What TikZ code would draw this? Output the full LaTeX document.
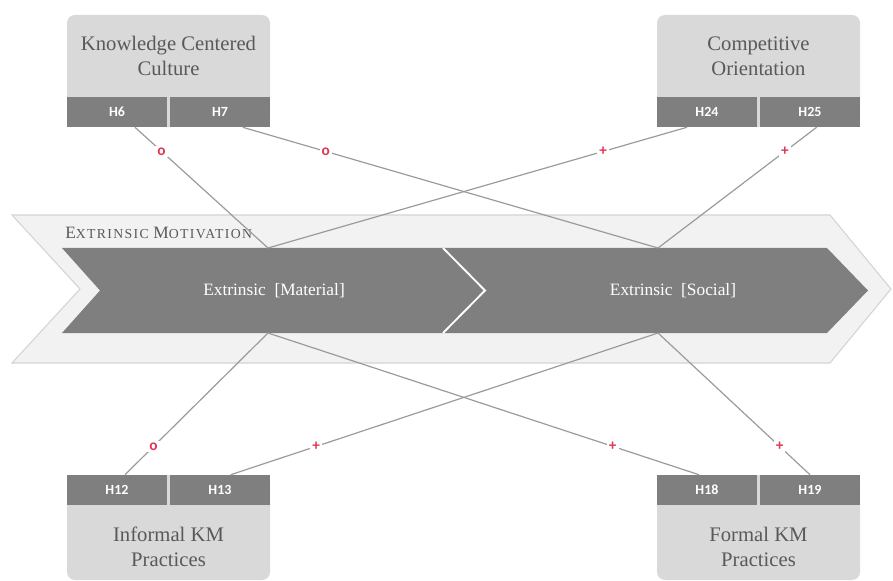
\documentclass[tikz,border=0pt]{standalone}
\usepackage{fontspec}
\setmainfont{Liberation Serif}
\newfontfamily\cellfont{Carlito}
\definecolor{panelgray}{RGB}{217,217,217}
\definecolor{cellgray}{RGB}{127,127,127}
\definecolor{bandgray}{RGB}{242,242,242}
\definecolor{bandedge}{RGB}{212,212,212}
\definecolor{linkgray}{RGB}{155,155,155}
\definecolor{textgray}{RGB}{89,89,89}
\definecolor{signred}{RGB}{222,56,86}
\newcommand{\capsc}[2]{{\fontsize{13}{13}\selectfont #1}{\fontsize{10.3}{10.3}\selectfont #2}}
\tikzset{
  panel/.style={fill=panelgray, rounded corners=6pt, minimum width=152.25pt, inner sep=0pt},
  paneltext/.style={align=center, text=textgray, font=\fontsize{15.5}{19}\selectfont},
  cell/.style={fill=cellgray, minimum width=75pt, minimum height=22.5pt, inner sep=0pt,
    text=white, font=\cellfont\bfseries\fontsize{10.5}{10.5}\selectfont},
  link/.style={draw=linkgray, line width=0.9pt},
  sign/.style={pos=0.2, fill=white, inner sep=1.5pt, text=signred,
    font=\cellfont\bfseries\fontsize{11.5}{11.5}\selectfont},
}
\begin{document}
\begin{tikzpicture}[x=0.75pt, y=-0.75pt]
\useasboundingbox (0,0) rectangle (893,581);
% outer band
\draw[fill=bandgray, draw=bandedge, line width=0.8pt]
  (12,215) -- (830,215) -- (891,289) -- (830,363) -- (12,363) -- (80,289) -- cycle;
\node[anchor=base west, text=textgray, inner sep=0pt] (band) at (65,238.5)
  {\addfontfeature{LetterSpace=10}\capsc{E}{XTRINSIC} \capsc{M}{OTIVATION}};
% inner chevrons
\fill[cellgray] (62,248) -- (443,248) -- (485,290.5) -- (443,333) -- (62,333) -- (100,290.5) -- cycle;
\fill[cellgray] (443,248) -- (827,248) -- (868,290.5) -- (827,333) -- (443,333) -- (485,290.5) -- cycle;
\draw[white, line width=1.4pt] (443,248) -- (485,290.5) -- (443,333);
\node[text=white, font=\fontsize{13}{13}\selectfont] (mat) at (274,290.5) {Extrinsic\ \ [Material]};
\node[text=white, font=\fontsize{13}{13}\selectfont] (soc) at (673,290.5) {Extrinsic\ \ [Social]};
\coordinate (matT) at (268,248);
\coordinate (matB) at (268,333);
\coordinate (socT) at (658,248);
\coordinate (socB) at (658,333);
% top panels
\node[panel, minimum height=84pt] (kcc) at (168.5,71) {};
\node[paneltext] (kcctxt) at (168.5,56) {Knowledge Centered\\Culture};
\node[cell] (h6) at (117,112) {H6};
\node[cell] (h7) at (220,112) {H7};
\node[panel, minimum height=84pt] (co) at (758.5,71) {};
\node[paneltext] (cotxt) at (758.5,56) {Competitive\\Orientation};
\node[cell] (h24) at (707,112) {H24};
\node[cell] (h25) at (810,112) {H25};
% bottom panels
\node[panel, minimum height=78.75pt] (ikm) at (168.5,527.5) {};
\node[paneltext] (ikmtxt) at (168.5,547) {Informal KM\\Practices};
\node[cell] (h12) at (117,490) {H12};
\node[cell] (h13) at (220,490) {H13};
\node[panel, minimum height=78.75pt] (fkm) at (758.5,527.5) {};
\node[paneltext] (fkmtxt) at (758.5,547) {Formal KM\\Practices};
\node[cell] (h18) at (707,490) {H18};
\node[cell] (h19) at (810,490) {H19};
% hypotheses
\draw[link] ([xshift=13.5pt]h6.south) -- node[sign]{o} (matT);
\draw[link] ([xshift=17pt]h7.south) -- node[sign]{o} (socT);
\draw[link] ([xshift=-15pt]h24.south) -- node[sign]{+} (matT);
\draw[link] ([xshift=5pt]h25.south) -- node[sign]{+} (socT);
\draw[link] ([xshift=6pt]h12.north) -- node[sign]{o} (matB);
\draw[link] ([xshift=8pt]h13.north) -- node[sign]{+} (socB);
\draw[link] ([xshift=-6pt]h18.north) -- node[sign]{+} (matB);
\draw[link] (h19.north) -- node[sign]{+} (socB);
\end{tikzpicture}
\end{document}
